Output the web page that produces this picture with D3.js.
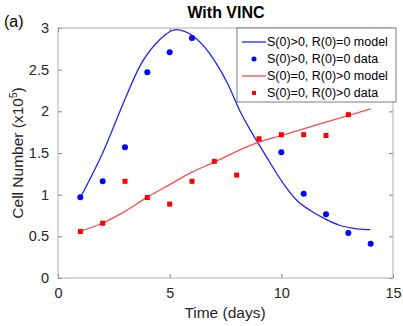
<!DOCTYPE html>
<html lang="en">
<head>
<meta charset="UTF-8">
<title>With VINC</title>
<script src="https://d3js.org/d3.v7.min.js"></script>
<style>
    body { margin: 0; background: #fff; }
    svg { display: block; font-family: "Liberation Sans", Arial, sans-serif; }
    .tick text { font-size: 14.5px; fill: #262626; }
    .legend text { font-size: 12.5px; fill: #000; }
</style>
</head>
<body>
<svg width="403" height="326"></svg>
<script>
// data
const dataTimes = [1, 2, 3, 4, 5, 6, 7, 8, 9, 10, 11, 12, 13, 14];
const sensData = [[1, 0.97], [2, 1.16], [3, 1.57], [4, 2.47], [5, 2.71], [6, 2.88],
                  [10, 1.51], [11, 1.01], [12, 0.765], [13, 0.54], [14, 0.41]];
const resData = [0.557, 0.657, 1.16, 0.966, 0.886, 1.16, 1.40, 1.235, 1.67, 1.72, 1.72, 1.71, 1.96];
const sensModelT = [1, 2, 2.99, 3.66, 4.41, 5.3, 6.06, 7.03, 7.6, 8.15, 8.6, 9.05, 9.5, 10.1, 10.7, 11.3, 11.96, 12.64, 13.4, 13.98];
const sensModelY = [0.965, 1.5, 2.14, 2.54, 2.82, 2.98, 2.90, 2.60, 2.33, 2.0, 1.78, 1.58, 1.38, 1.13, 0.93, 0.81, 0.71, 0.63, 0.59, 0.58];
const resModelY = [0.56, 0.66, 0.80, 0.97, 1.12, 1.27, 1.39, 1.52, 1.63, 1.71, 1.79, 1.87, 1.95, 2.03];
const xTicks = [0, 5, 10, 15];
const yTicks = [0, 0.5, 1, 1.5, 2, 2.5, 3];
const legendLabels = ["S(0)>0, R(0)=0 model", "S(0)>0, R(0)=0 data",
                      "S(0)=0, R(0)>0 model", "S(0)=0, R(0)>0 data"];

const margin = {top: 28, right: 10, bottom: 48, left: 58},
      width = 403 - margin.left - margin.right,
      height = 326 - margin.top - margin.bottom;

const svgRoot = d3.select("svg");
const svg = svgRoot.append("g")
    .attr("transform", `translate(${margin.left},${margin.top})`);

const x = d3.scaleLinear().domain([0, 15]).range([0, width]);
const y = d3.scaleLinear().domain([0, 3]).range([height, 0]);

// axes, MATLAB-style box with inward ticks
const axisColor = "#262626";
function styleAxis(g) {
    g.select(".domain").attr("stroke", "none");
    g.selectAll(".tick line").attr("stroke", axisColor).attr("stroke-width", 0.6);
}
svg.append("g").attr("transform", `translate(0,${height})`)
   .call(d3.axisBottom(x).tickValues(xTicks).tickSizeInner(-4).tickPadding(10))
   .call(styleAxis);
svg.append("g")
   .call(d3.axisTop(x).tickValues(xTicks).tickSizeInner(-4).tickFormat(""))
   .call(styleAxis);
svg.append("g")
   .call(d3.axisLeft(y).tickValues(yTicks).tickSizeInner(-4).tickPadding(9).tickFormat(d3.format("")))
   .call(styleAxis);
svg.append("g").attr("transform", `translate(${width},0)`)
   .call(d3.axisRight(y).tickValues(yTicks).tickSizeInner(-4).tickFormat(""))
   .call(styleAxis);
svg.append("rect")
   .attr("width", width).attr("height", height)
   .attr("fill", "none").attr("stroke", "#b0b0b0").attr("stroke-width", 1);

// model curves
const curve = d3.line().curve(d3.curveMonotoneX).x(d => x(d[0])).y(d => y(d[1]));
svg.append("path")
   .datum(sensModelT.map((t, i) => [t, sensModelY[i]]))
   .attr("d", curve).attr("fill", "none").attr("stroke", "#2222ff").attr("stroke-width", 1.3);
svg.append("path")
   .datum(dataTimes.map((t, i) => [t, resModelY[i]]))
   .attr("d", curve).attr("fill", "none").attr("stroke", "#ff4a4a").attr("stroke-width", 1.3);

// data markers
svg.selectAll(".sens").data(sensData).enter().append("circle")
   .attr("cx", d => x(d[0])).attr("cy", d => y(d[1])).attr("r", 3).attr("fill", "#0000ff");
svg.selectAll(".res").data(resData).enter().append("rect")
   .attr("x", (d, i) => x(dataTimes[i]) - 2.5).attr("y", d => y(d) - 2.5)
   .attr("width", 5).attr("height", 5).attr("fill", "#ff0000");

// legend
const legend = svgRoot.append("g").attr("class", "legend").attr("transform", "translate(237,28)");
legend.append("rect").attr("width", 159).attr("height", 74)
      .attr("fill", "#fff").attr("stroke", "#262626").attr("stroke-width", 0.6);
const items = legend.selectAll(".item").data(legendLabels).enter().append("g")
      .attr("transform", (d, i) => `translate(0,${14 + i * 17})`);
items.each(function(d, i) {
    const g = d3.select(this);
    if (i === 0 || i === 2) {
        g.append("line").attr("x1", 5).attr("x2", 29).attr("y1", 0).attr("y2", 0)
         .attr("stroke", i === 0 ? "#2222ff" : "#ff4a4a").attr("stroke-width", 1.3);
    } else if (i === 1) {
        g.append("circle").attr("cx", 17).attr("cy", 0).attr("r", 2.5).attr("fill", "#0000ff");
    } else {
        g.append("rect").attr("x", 15).attr("y", -2).attr("width", 4).attr("height", 4).attr("fill", "#ff0000");
    }
    g.append("text").attr("x", 30).attr("dy", "0.35em").text(d);
});

// titles and labels
svgRoot.append("text").attr("x", 226).attr("y", 18)
   .attr("text-anchor", "middle").style("font-size", "16px").style("font-weight", "bold").text("With VINC");
svgRoot.append("text").attr("x", 4).attr("y", 27)
   .style("font-size", "16px").text("(a)");
svgRoot.append("text").attr("x", 225).attr("y", 318)
   .attr("text-anchor", "middle").style("font-size", "15.5px").style("fill", "#262626").text("Time (days)");
const yl = svgRoot.append("text")
   .attr("transform", `translate(23,${margin.top + height / 2}) rotate(-90)`)
   .attr("text-anchor", "middle").style("font-size", "15.5px").style("fill", "#262626");
yl.append("tspan").text("Cell Number (x10");
yl.append("tspan").attr("dy", -6).style("font-size", "10px").text("5");
yl.append("tspan").attr("dy", 6).text(")");
</script>
</body>
</html>
